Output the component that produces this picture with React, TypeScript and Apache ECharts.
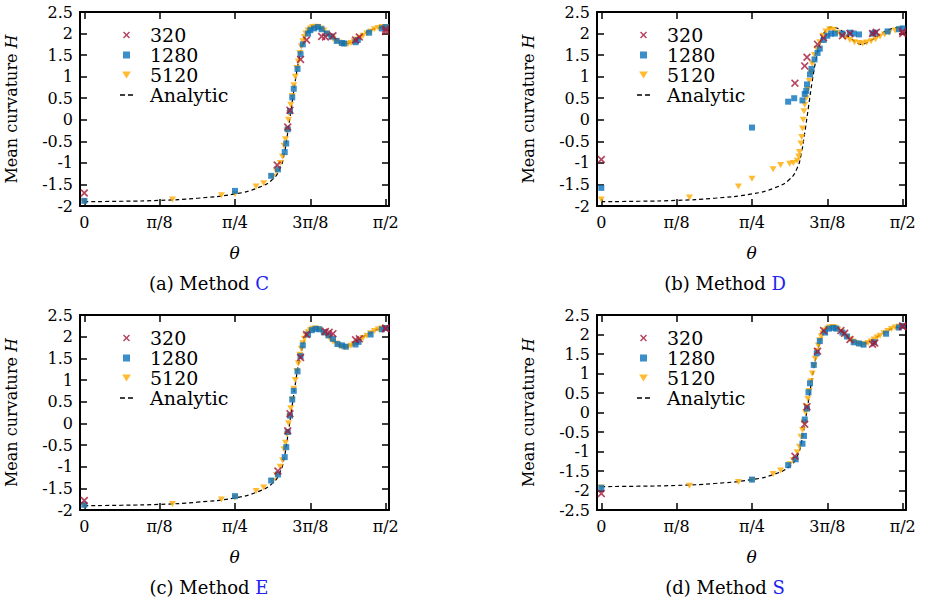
import { useRef, useEffect } from 'react'
import * as echarts from 'echarts'

// x values are in units of pi/8 (0 .. 4 = pi/2)
const X_TICKS = [0, 1, 2, 3, 4]
const X_TICK_LABELS = ['0', 'π/8', 'π/4', '3π/8', 'π/2']
const SERIES_NAMES = ['320', '1280', '5120', 'Analytic']
const PANEL_LABELS = ['(a)', '(b)', '(c)', '(d)']
const PANEL_METHODS = ['C', 'D', 'E', 'S']
const Y_MINS = [-2, -2, -2, -2.5]

const ANALYTIC_AB = [
  [0, -1.9], [0.5, -1.89], [1, -1.87], [1.5, -1.82], [2, -1.72], [2.3, -1.58], [2.5, -1.38], [2.6, -1.12],
  [2.65, -0.82], [2.7, -0.3], [2.75, 0.3], [2.8, 0.9], [2.85, 1.4], [2.9, 1.75], [2.95, 2.0], [3.0, 2.1],
  [3.05, 2.15], [3.1, 2.14], [3.2, 2.05], [3.3, 1.9], [3.4, 1.78], [3.45, 1.75], [3.5, 1.77], [3.6, 1.86],
  [3.7, 1.98], [3.8, 2.08], [3.9, 2.13], [4, 2.15],
]
const ANALYTIC_CD = [
  [0, -1.9], [0.5, -1.89], [1, -1.87], [1.5, -1.82], [2, -1.72], [2.3, -1.58], [2.5, -1.38], [2.6, -1.12],
  [2.65, -0.82], [2.7, -0.3], [2.75, 0.3], [2.8, 0.9], [2.85, 1.42], [2.9, 1.78], [2.95, 2.03], [3.0, 2.13],
  [3.05, 2.18], [3.1, 2.17], [3.2, 2.07], [3.3, 1.92], [3.4, 1.79], [3.45, 1.76], [3.5, 1.77], [3.6, 1.86],
  [3.7, 1.99], [3.8, 2.1], [3.9, 2.17], [4, 2.2],
]

const A_320 = [[0, -1.7], [2.56, -1.05], [2.7, -0.17], [2.73, 0.22], [2.87, 1.4], [2.95, 1.85], [3.15, 1.93], [3.2, 1.92], [3.3, 1.95], [3.6, 1.85], [3.65, 1.92], [4, 2.05], [4, 2.1]]
const A_1280 = [
  [0, -1.88], [2, -1.65], [2.48, -1.3], [2.57, -1.15], [2.66, -0.75], [2.68, -0.55], [2.7, -0.22], [2.73, 0.2],
  [2.76, 0.52], [2.78, 0.72], [2.83, 1.18], [2.87, 1.52], [2.9, 1.75], [2.97, 2.0], [3.0, 2.08], [3.05, 2.12],
  [3.1, 2.15], [3.15, 2.1], [3.22, 2.0], [3.28, 1.93], [3.35, 1.83], [3.42, 1.78], [3.45, 1.77], [3.6, 1.8],
  [3.63, 1.85], [3.78, 2.02], [3.95, 2.12], [4, 2.15],
]
const A_5120 = [
  [0, -1.9], [1.17, -1.85], [1.82, -1.75], [2.0, -1.72], [2.28, -1.55], [2.38, -1.47], [2.5, -1.32], [2.55, -1.2],
  [2.6, -1.0], [2.63, -0.85], [2.65, -0.6], [2.67, -0.45], [2.69, -0.25], [2.71, 0.0], [2.72, 0.15], [2.74, 0.35],
  [2.76, 0.55], [2.78, 0.8], [2.8, 1.0], [2.82, 1.2], [2.84, 1.35], [2.86, 1.55], [2.88, 1.7], [2.9, 1.82],
  [2.92, 1.92], [2.94, 2.0], [2.97, 2.07], [3.0, 2.12], [3.03, 2.15], [3.07, 2.16], [3.1, 2.15], [3.14, 2.12],
  [3.18, 2.07], [3.22, 2.0], [3.26, 1.94], [3.3, 1.88], [3.34, 1.83], [3.38, 1.79], [3.42, 1.76], [3.46, 1.75],
  [3.5, 1.76], [3.54, 1.78], [3.58, 1.82], [3.62, 1.86], [3.66, 1.9], [3.7, 1.95], [3.75, 2.0], [3.8, 2.05],
  [3.85, 2.1], [3.9, 2.13], [3.95, 2.15], [4, 2.15],
]

const B_320 = [[0, -0.92], [2.57, 0.85], [2.7, 1.25], [2.73, 1.45], [2.87, 1.75], [2.95, 1.9], [3.2, 1.95], [3.3, 2.0], [3.6, 2.0], [3.65, 2.03], [4, 2.05], [4, 2.0]]
const B_1280 = [
  [0, -1.58], [2, -0.18], [2.48, 0.42], [2.56, 0.5], [2.67, 0.45], [2.7, 0.6], [2.72, 0.67], [2.73, 0.82],
  [2.77, 1.05], [2.79, 1.18], [2.83, 1.4], [2.87, 1.55], [2.9, 1.65], [2.95, 1.85], [3.0, 1.95], [3.05, 2.0],
  [3.1, 2.0], [3.2, 2.0], [3.3, 2.02], [3.35, 2.0], [3.42, 1.98], [3.6, 2.0], [3.63, 2.02], [3.8, 2.05],
  [3.95, 2.1], [4, 2.12],
]
const B_5120 = [
  [0, -1.85], [1.17, -1.8], [1.82, -1.55], [2.0, -1.37], [2.28, -1.15], [2.38, -1.05], [2.5, -1.02], [2.55, -1.0],
  [2.6, -0.95], [2.62, -0.85], [2.63, -0.75], [2.65, -0.55], [2.66, -0.4], [2.67, -0.2], [2.68, 0.0], [2.69, 0.2],
  [2.7, 0.35], [2.72, 0.5], [2.74, 0.7], [2.76, 0.9], [2.78, 1.1], [2.8, 1.3], [2.83, 1.5], [2.86, 1.65],
  [2.9, 1.8], [2.94, 1.95], [2.98, 2.05], [3.03, 2.1], [3.08, 2.08], [3.13, 2.02], [3.18, 1.96], [3.24, 1.9],
  [3.3, 1.85], [3.36, 1.8], [3.42, 1.78], [3.47, 1.77], [3.52, 1.79], [3.58, 1.82], [3.64, 1.87], [3.7, 1.93],
  [3.76, 1.98], [3.82, 2.02], [3.9, 2.07], [3.96, 2.1],
]

const C_320 = [[0, -1.78], [2.57, -1.1], [2.7, -0.17], [2.73, 0.22], [2.87, 1.52], [2.95, 2.05], [3.2, 2.12], [3.25, 2.1], [3.3, 2.07], [3.6, 1.93], [3.65, 1.95], [4, 2.2], [4, 2.18]]
const C_1280 = [
  [0, -1.88], [2, -1.68], [2.48, -1.32], [2.57, -1.18], [2.66, -0.78], [2.68, -0.55], [2.7, -0.2], [2.73, 0.18],
  [2.76, 0.55], [2.78, 0.75], [2.83, 1.2], [2.87, 1.55], [2.9, 1.8], [2.97, 2.05], [3.02, 2.15], [3.07, 2.18],
  [3.12, 2.17], [3.18, 2.1], [3.24, 2.03], [3.3, 1.95], [3.36, 1.83], [3.42, 1.8], [3.47, 1.77], [3.6, 1.82],
  [3.64, 1.88], [3.8, 2.05], [3.95, 2.17], [4, 2.2],
]
const C_5120 = [
  [0, -1.9], [1.17, -1.86], [1.82, -1.76], [2.0, -1.72], [2.28, -1.56], [2.38, -1.48], [2.5, -1.33], [2.55, -1.2],
  [2.6, -1.0], [2.63, -0.85], [2.65, -0.6], [2.67, -0.45], [2.69, -0.25], [2.71, 0.0], [2.72, 0.15], [2.74, 0.35],
  [2.76, 0.55], [2.78, 0.8], [2.8, 1.0], [2.82, 1.2], [2.84, 1.38], [2.86, 1.58], [2.88, 1.72], [2.9, 1.85],
  [2.92, 1.95], [2.94, 2.03], [2.97, 2.1], [3.0, 2.15], [3.03, 2.18], [3.07, 2.19], [3.1, 2.17], [3.14, 2.14],
  [3.18, 2.08], [3.22, 2.02], [3.26, 1.95], [3.3, 1.89], [3.34, 1.84], [3.38, 1.79], [3.42, 1.76], [3.46, 1.75],
  [3.5, 1.76], [3.54, 1.79], [3.58, 1.83], [3.62, 1.87], [3.66, 1.92], [3.7, 1.97], [3.75, 2.02], [3.8, 2.08],
  [3.85, 2.13], [3.9, 2.17], [3.95, 2.19], [4, 2.2],
]

const D_320 = [[0, -2.08], [2.57, -1.12], [2.7, -0.3], [2.73, 0.15], [2.87, 1.57], [2.95, 2.1], [3.18, 2.1], [3.23, 2.03], [3.3, 1.87], [3.6, 1.75], [3.63, 1.78], [4, 2.22], [4, 2.2]]
const D_1280 = [
  [0, -1.93], [2, -1.72], [2.48, -1.35], [2.58, -1.2], [2.67, -0.8], [2.69, -0.6], [2.7, -0.18], [2.73, 0.1],
  [2.75, 0.52], [2.77, 0.75], [2.82, 1.22], [2.86, 1.52], [2.9, 1.83], [2.97, 2.05], [3.02, 2.15], [3.08, 2.17],
  [3.12, 2.15], [3.2, 2.05], [3.26, 1.95], [3.35, 1.8], [3.42, 1.77], [3.48, 1.74], [3.62, 1.8], [3.78, 2.02],
  [3.95, 2.18], [4, 2.22],
]
const D_5120 = [
  [0, -1.92], [1.17, -1.88], [1.82, -1.78], [2.0, -1.74], [2.28, -1.58], [2.38, -1.49], [2.5, -1.33], [2.55, -1.22],
  [2.6, -1.02], [2.63, -0.88], [2.65, -0.62], [2.67, -0.45], [2.69, -0.25], [2.71, 0.0], [2.72, 0.15], [2.74, 0.35],
  [2.76, 0.55], [2.78, 0.8], [2.8, 1.0], [2.82, 1.2], [2.84, 1.38], [2.86, 1.58], [2.88, 1.72], [2.9, 1.85],
  [2.92, 1.95], [2.94, 2.03], [2.97, 2.1], [3.0, 2.15], [3.03, 2.18], [3.07, 2.19], [3.1, 2.17], [3.14, 2.13],
  [3.18, 2.07], [3.22, 2.0], [3.26, 1.93], [3.3, 1.87], [3.34, 1.82], [3.38, 1.78], [3.42, 1.75], [3.46, 1.74],
  [3.5, 1.75], [3.54, 1.78], [3.58, 1.82], [3.62, 1.87], [3.66, 1.92], [3.7, 1.97], [3.75, 2.03], [3.8, 2.09],
  [3.85, 2.14], [3.9, 2.18], [3.95, 2.2], [4, 2.22],
]

const PANEL_DATA = [
  [A_320, A_1280, A_5120, ANALYTIC_AB],
  [B_320, B_1280, B_5120, ANALYTIC_AB],
  [C_320, C_1280, C_5120, ANALYTIC_CD],
  [D_320, D_1280, D_5120, ANALYTIC_CD],
]

const GRIDS = [
  { left: 80, top: 12, width: 309, height: 194 },
  { left: 597, top: 12, width: 309, height: 194 },
  { left: 80, top: 315, width: 309, height: 195 },
  { left: 597, top: 315, width: 309, height: 195 },
]
const CAPTION_POS = [[209, 283], [725, 283], [209, 587], [725, 587]]

const FONT = 'DejaVu Serif'
const RED = '#a3193a'
const BLUE = '#0b72bb'
const ORANGE = '#ffaa00'
const CROSS = 'path://M0,1.5L1.5,0L5,3.5L8.5,0L10,1.5L6.5,5L10,8.5L8.5,10L5,6.5L1.5,10L0,8.5L3.5,5Z'
const SQUARE = 'path://M0,0h10v10h-10z'
const TRI = 'path://M0,0L10,0L5,8Z'
const DASH = 'path://M0,0h5v1.5h-5z M8,0h5v1.5h-5z'

function buildOption(): echarts.EChartsOption {
  const xAxis: any[] = []
  const yAxis: any[] = []
  const series: any[] = []
  const legend: any[] = []
  const graphic: any[] = []

  GRIDS.forEach((g, i) => {
    const yMin = Y_MINS[i]
    const tick = { show: true, inside: true, length: 7, lineStyle: { color: '#000', width: 1.5 } }
    const line = { show: true, onZero: false, lineStyle: { color: '#000', width: 2 } }
    xAxis.push({
      type: 'value', gridIndex: i, min: -0.057, max: 4.044, position: 'bottom',
      axisLine: line,
      axisTick: { ...tick, customValues: X_TICKS },
      axisLabel: {
        customValues: X_TICKS, margin: 8, color: '#000', fontFamily: FONT, fontSize: 16,
        formatter: (v: number) => X_TICK_LABELS[X_TICKS.indexOf(Math.round(v))] ?? '',
      },
      splitLine: { show: false },
      name: 'θ', nameLocation: 'middle', nameGap: 38,
      nameTextStyle: { fontFamily: FONT, fontSize: 17, fontStyle: 'italic', color: '#000' },
    })
    xAxis.push({
      type: 'value', gridIndex: i, min: -0.057, max: 4.044, position: 'top',
      axisLine: line, axisTick: { ...tick, customValues: X_TICKS }, axisLabel: { show: false }, splitLine: { show: false },
    })
    yAxis.push({
      type: 'value', gridIndex: i, min: yMin, max: 2.5, interval: 0.5, position: 'left',
      axisLine: line, axisTick: tick,
      axisLabel: { margin: 7, color: '#000', fontFamily: FONT, fontSize: 16, formatter: (v: number) => String(v) },
      splitLine: { show: false },
      name: 'Mean curvature {i|H}', nameLocation: 'middle', nameGap: 61,
      nameTextStyle: {
        fontFamily: FONT, fontSize: 16, color: '#000',
        rich: { i: { fontFamily: FONT, fontSize: 16, fontStyle: 'italic', color: '#000' } },
      },
    })
    yAxis.push({
      type: 'value', gridIndex: i, min: yMin, max: 2.5, interval: 0.5, position: 'right',
      axisLine: line, axisTick: tick, axisLabel: { show: false }, splitLine: { show: false },
    })

    const [d320, d1280, d5120, dAn] = PANEL_DATA[i]
    const axes = { xAxisIndex: i * 2, yAxisIndex: i * 2 }
    series.push({ ...axes, name: SERIES_NAMES[3], type: 'line', data: dAn, smooth: true, showSymbol: false, lineStyle: { color: '#000', width: 1.2, type: [4, 3] }, z: 1 })
    series.push({ ...axes, name: SERIES_NAMES[2], type: 'scatter', data: d5120, symbol: TRI, symbolSize: [7, 6], itemStyle: { color: ORANGE }, z: 2 })
    series.push({ ...axes, name: SERIES_NAMES[1], type: 'scatter', data: d1280, symbol: SQUARE, symbolSize: 6, itemStyle: { color: BLUE }, z: 3 })
    series.push({ ...axes, name: SERIES_NAMES[0], type: 'scatter', data: d320, symbol: CROSS, symbolSize: 8, itemStyle: { color: RED }, z: 4 })

    legend.push({
      orient: 'vertical', left: g.left + 35, top: g.top + 8, itemGap: 0, itemWidth: 13, itemHeight: 7,
      selectedMode: false,
      textStyle: { fontFamily: FONT, fontSize: 19, color: '#000', lineHeight: 20, padding: [0, 0, 0, 12] },
      data: [
        { name: SERIES_NAMES[0], icon: CROSS, itemStyle: { color: RED } },
        { name: SERIES_NAMES[1], icon: SQUARE, itemStyle: { color: BLUE } },
        { name: SERIES_NAMES[2], icon: TRI, itemStyle: { color: ORANGE } },
        { name: SERIES_NAMES[3], icon: DASH, itemStyle: { color: '#000' }, lineStyle: { width: 0 } },
      ],
    })

    const [cx, cy] = CAPTION_POS[i]
    graphic.push({
      type: 'text', x: cx, y: cy,
      style: {
        text: `${PANEL_LABELS[i]} Method {m|${PANEL_METHODS[i]}}`,
        fontFamily: FONT, fontSize: 18, fill: '#000', align: 'center', verticalAlign: 'middle',
        rich: { m: { fontFamily: FONT, fontSize: 18, fill: '#2222ee', color: '#2222ee' } },
      },
    })
  })

  return {
    animation: false,
    backgroundColor: '#fff',
    grid: GRIDS,
    xAxis, yAxis, series, legend, graphic,
  }
}

export default function App() {
  const ref = useRef<HTMLDivElement>(null)

  useEffect(() => {
    if (!ref.current) return
    const chart = echarts.init(ref.current, null, { renderer: 'svg' })
    chart.setOption(buildOption())
    return () => chart.dispose()
  }, [])

  return <div ref={ref} style={{ position: 'fixed', left: 0, top: 0, width: 925, height: 605, background: '#fff' }} />
}
